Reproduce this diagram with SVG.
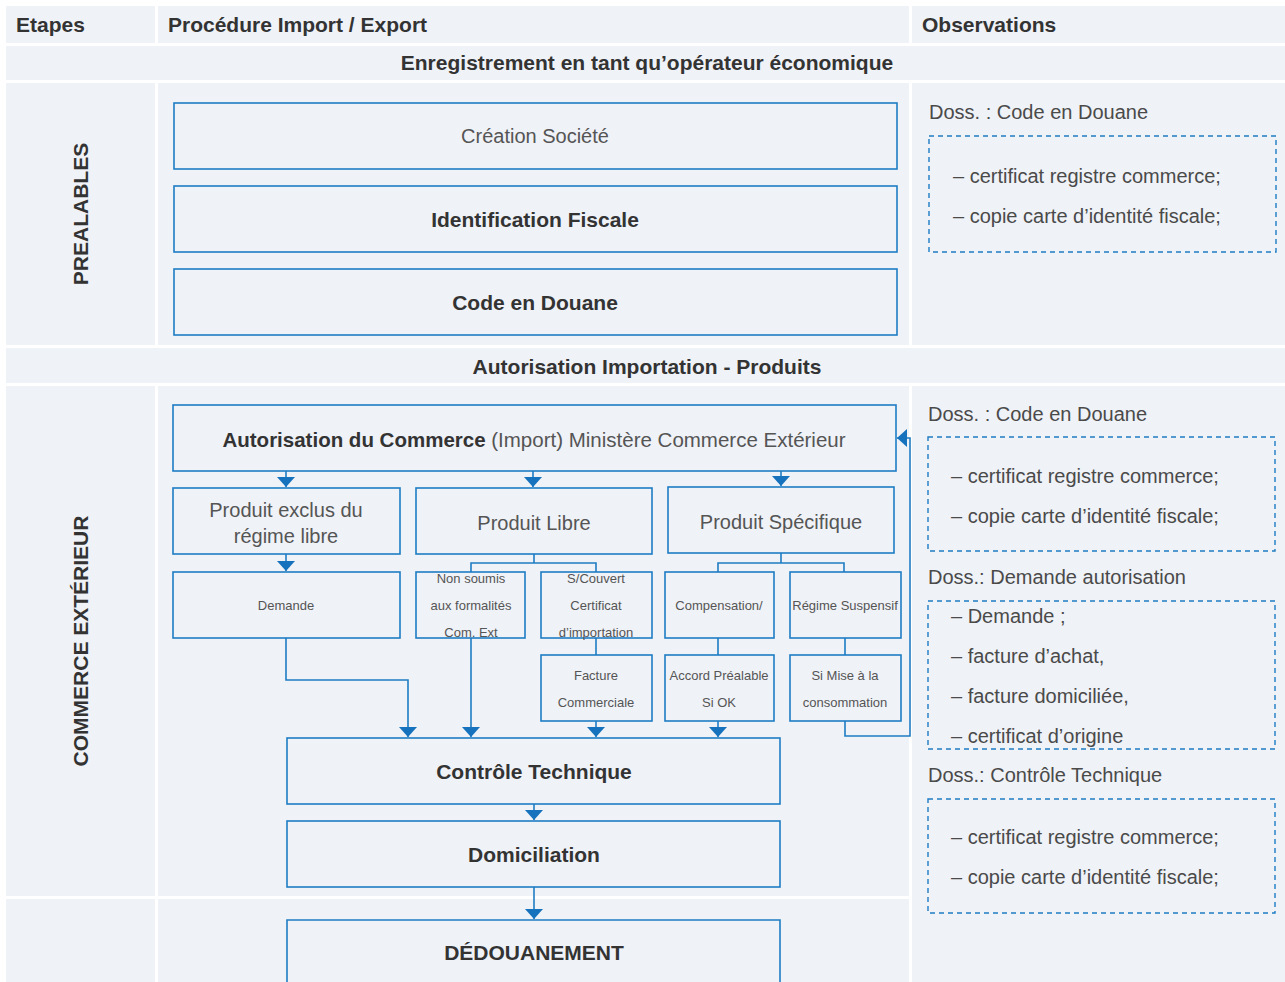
<svg xmlns="http://www.w3.org/2000/svg" width="1285" height="982" viewBox="0 0 1285 982">
<defs>
<style>
.cell{fill:#eff2f7}
.box{fill:none;stroke:#1f7cc4;stroke-width:1.6}
.dash{fill:none;stroke:#1f7cc4;stroke-width:1.4;stroke-dasharray:5,4}
.ln{fill:none;stroke:#1f7cc4;stroke-width:1.6}
.arr{fill:none;stroke:#1f7cc4;stroke-width:1.6;marker-end:url(#ah)}
text{font-family:"Liberation Sans",Arial,sans-serif;fill:#444}
.h{font-size:21px;font-weight:bold;fill:#333}
.b{font-size:21px;font-weight:bold;fill:#333;text-anchor:middle}
.r{font-size:20px;fill:#555;text-anchor:middle}
.s{font-size:13px;fill:#555;text-anchor:middle}
.o{font-size:20px;fill:#4a4a4a}
</style>
<marker id="ah" viewBox="0 0 10 18" refX="10" refY="9" markerWidth="10" markerHeight="18" markerUnits="userSpaceOnUse" orient="auto">
<path d="M0,0 L10,9 L0,18 z" fill="#1672bd"/>
</marker>
</defs>
<rect width="1285" height="982" fill="#ffffff"/>
<g id="table">
<rect class="cell" x="6" y="6" width="149" height="37"/>
<rect class="cell" x="158" y="6" width="751" height="37"/>
<rect class="cell" x="912" y="6" width="373" height="37"/>
<rect class="cell" x="6" y="46" width="1279" height="34"/>
<rect class="cell" x="6" y="83" width="149" height="262"/>
<rect class="cell" x="158" y="83" width="751" height="262"/>
<rect class="cell" x="912" y="83" width="373" height="262"/>
<rect class="cell" x="6" y="348" width="1279" height="35"/>
<rect class="cell" x="6" y="386" width="149" height="510"/>
<rect class="cell" x="158" y="386" width="751" height="510"/>
<rect class="cell" x="912" y="386" width="373" height="596"/>
<rect class="cell" x="6" y="899" width="149" height="83"/>
<rect class="cell" x="158" y="899" width="751" height="83"/>
<text class="h" x="16" y="32">Etapes</text>
<text class="h" x="168" y="32">Procédure Import / Export</text>
<text class="h" x="922" y="32">Observations</text>
<text class="b" x="647" y="70">Enregistrement en tant qu’opérateur économique</text>
<text class="b" x="647" y="374">Autorisation Importation - Produits</text>
<text class="b" transform="translate(88,214) rotate(-90)">PREALABLES</text>
<text class="b" transform="translate(88,641) rotate(-90)">COMMERCE EXTÉRIEUR</text>
</g>
<g id="connectors">
<path class="arr" d="M286,471 V487"/>
<path class="arr" d="M533,471 V487"/>
<path class="arr" d="M781,471 V486"/>
<path class="arr" d="M286,554 V571"/>
<path class="ln" d="M534,554 V563 M471,572 V563 H596 V572"/>
<path class="ln" d="M781,553 V563 M718,572 V563 H844 V572"/>
<path class="ln" d="M596,638 V655 M718,638 V655 M845,638 V655"/>
<path class="arr" d="M286,638 V680 H408 V737"/>
<path class="arr" d="M471,638 V737"/>
<path class="arr" d="M596,721 V737"/>
<path class="arr" d="M718,721 V737"/>
<path class="arr" d="M845,721 V736 H910 V438 H897"/>
<path class="arr" d="M534,804 V820"/>
<path class="arr" d="M534,887 V919"/>
</g>
<g id="n-creation"><rect class="box" x="174" y="103" width="723" height="66"/><text class="r" x="535" y="143">Création Société</text></g>
<g id="n-ident"><rect class="box" x="174" y="186" width="723" height="66"/><text class="b" x="535" y="227">Identification Fiscale</text></g>
<g id="n-code"><rect class="box" x="174" y="269" width="723" height="66"/><text class="b" x="535" y="310">Code en Douane</text></g>
<g id="n-autor"><rect class="box" x="173" y="405" width="723" height="66"/><text x="534" y="447" style="font-size:20.5px;text-anchor:middle;fill:#555"><tspan font-weight="bold" fill="#333">Autorisation du Commerce</tspan> (Import) Ministère Commerce Extérieur</text></g>
<g id="n-exclus"><rect class="box" x="173" y="488" width="227" height="66"/><text class="r" x="286" y="517">Produit exclus du</text><text class="r" x="286" y="543">régime libre</text></g>
<g id="n-libre"><rect class="box" x="416" y="488" width="236" height="66"/><text class="r" x="534" y="530">Produit Libre</text></g>
<g id="n-spec"><rect class="box" x="668" y="487" width="226" height="66"/><text class="r" x="781" y="529">Produit Spécifique</text></g>
<g id="n-demande"><rect class="box" x="173" y="572" width="227" height="66"/><text class="s" x="286" y="610">Demande</text></g>
<g id="n-nonsoumis"><rect class="box" x="416" y="572" width="109" height="66"/><text class="s" x="471" y="583">Non soumis</text><text class="s" x="471" y="610">aux formalités</text><text class="s" x="471" y="637">Com. Ext</text></g>
<g id="n-scouvert"><rect class="box" x="541" y="572" width="111" height="66"/><text class="s" x="596" y="583">S/Couvert</text><text class="s" x="596" y="610">Certificat</text><text class="s" x="596" y="637">d’importation</text></g>
<g id="n-comp"><rect class="box" x="665" y="572" width="109" height="66"/><text class="s" x="719" y="610">Compensation/</text></g>
<g id="n-regime"><rect class="box" x="790" y="572" width="111" height="66"/><text class="s" x="845" y="610">Régime Suspensif</text></g>
<g id="n-facture"><rect class="box" x="541" y="655" width="111" height="66"/><text class="s" x="596" y="680">Facture</text><text class="s" x="596" y="707">Commerciale</text></g>
<g id="n-accord"><rect class="box" x="665" y="655" width="109" height="66"/><text class="s" x="719" y="680">Accord Préalable</text><text class="s" x="719" y="707">Si OK</text></g>
<g id="n-simise"><rect class="box" x="790" y="655" width="111" height="66"/><text class="s" x="845" y="680">Si Mise à la</text><text class="s" x="845" y="707">consommation</text></g>
<g id="n-controle"><rect class="box" x="287" y="738" width="493" height="66"/><text class="b" x="534" y="779">Contrôle Technique</text></g>
<g id="n-domic"><rect class="box" x="287" y="821" width="493" height="66"/><text class="b" x="534" y="862">Domiciliation</text></g>
<g id="n-dedou"><path class="box" d="M287,990 V920 H780 V990"/><text class="b" x="534" y="960">DÉDOUANEMENT</text></g>
<g id="obs1">
<text class="o" x="929" y="119">Doss. : Code en Douane</text>
<rect class="dash" x="929" y="136" width="347" height="116"/>
<text class="o" x="953" y="183">– certificat registre commerce;</text>
<text class="o" x="953" y="223">– copie carte d’identité fiscale;</text>
</g>
<g id="obs2">
<text class="o" x="928" y="421">Doss. : Code en Douane</text>
<rect class="dash" x="928" y="437" width="347" height="114"/>
<text class="o" x="951" y="483">– certificat registre commerce;</text>
<text class="o" x="951" y="523">– copie carte d’identité fiscale;</text>
</g>
<g id="obs3">
<text class="o" x="928" y="584">Doss.: Demande autorisation</text>
<rect class="dash" x="928" y="601" width="347" height="148"/>
<text class="o" x="951" y="623">– Demande ;</text>
<text class="o" x="951" y="663">– facture d’achat,</text>
<text class="o" x="951" y="703">– facture domiciliée,</text>
<text class="o" x="951" y="743">– certificat d’origine</text>
</g>
<g id="obs4">
<text class="o" x="928" y="782">Doss.: Contrôle Technique</text>
<rect class="dash" x="928" y="799" width="347" height="114"/>
<text class="o" x="951" y="844">– certificat registre commerce;</text>
<text class="o" x="951" y="884">– copie carte d’identité fiscale;</text>
</g>
</svg>
